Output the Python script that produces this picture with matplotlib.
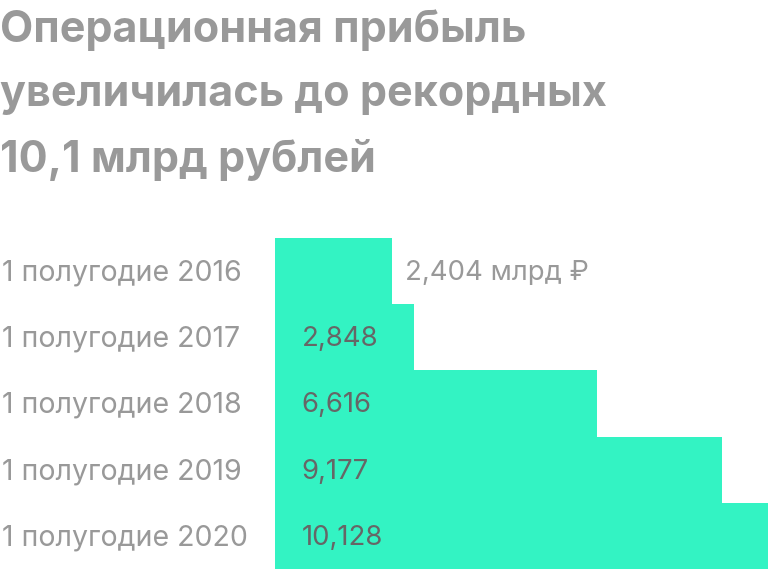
import matplotlib
matplotlib.use('Agg')
import matplotlib.pyplot as plt
from matplotlib.transforms import blended_transform_factory

# data
periods = ['1 полугодие 2016', '1 полугодие 2017', '1 полугодие 2018',
           '1 полугодие 2019', '1 полугодие 2020']
profit = [2.404, 2.848, 6.616, 9.177, 10.128]
value_labels = ['2,404 млрд ₽', '2,848', '6,616', '9,177', '10,128']
title = 'Операционная прибыль\nувеличилась до рекордных\n10,1 млрд рублей'

plt.rcParams['font.family'] = ['Inter', 'DejaVu Sans']

fig = plt.figure(figsize=(7.68, 5.72), dpi=100)
ax = fig.add_axes([275 / 768, 3 / 572, 493 / 768, 331 / 572])

y = list(range(len(periods)))
ax.barh(y, profit, height=1.0, color='#33f3c3', linewidth=0)
ax.set_xlim(0, max(profit))
ax.set_ylim(len(periods) - 0.5, -0.5)
ax.axis('off')

trans = blended_transform_factory(fig.transFigure, ax.transData)
for i, (v, lab) in enumerate(zip(profit, value_labels)):
    if i == 0:
        ax.text(v + 0.27, i + 0.03, lab, va='center', ha='left',
                fontsize=19.8, color='#999999')
    else:
        ax.text(0.55, i + 0.03, lab, va='center', ha='left',
                fontsize=19.8, color='#666666')
    fig.text(2 / 768, i + 0.03, periods[i], fontsize=20.5, color='#999999',
             va='center', ha='left', transform=trans)

fig.text(0, 1 - 9 / 572, title, fontsize=31, fontweight='bold',
         color='#999999', va='top', ha='left', linespacing=1.73)

fig.savefig('out.png', dpi=100)
